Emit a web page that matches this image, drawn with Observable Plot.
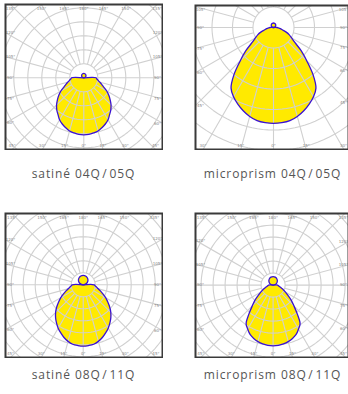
<!DOCTYPE html>
<html><head><meta charset="utf-8">
<script src="https://cdn.jsdelivr.net/npm/d3@7"></script>
<script src="https://cdn.jsdelivr.net/npm/@observablehq/plot@0.6"></script>
<style>
html,body{margin:0;padding:0;background:#fff;width:348px;height:394px;overflow:hidden;}
#root{position:relative;width:348px;height:394px;overflow:hidden;}
#root svg{position:absolute;}
.cap{position:absolute;font-family:"Open Sans",sans-serif;font-size:12px;letter-spacing:0.9px;color:#555;text-align:center;width:200px;line-height:18px;white-space:nowrap;}
.cap .sl{margin:0 2px 0 1.5px;}
</style></head><body><div id="root"></div>
<script>
// ---- data (intensity, arbitrary units; 100 = one grid ring) ----
const lowerAngles = [0,5,10,15,20,25,30,35,40,45,50,55,60,65,70,75,80,85,90];
const upperAngles = [90,105,120,135,150,165,180];
const satine0405Lower = [407,406,400,393,379,364,346,321,300,275,246,218,189,157,136,118,104,93,88];
const satine0405Upper = [0,8,15.5,22,27,30,31];
const microprism0405Lower = [468,466,461,449,432,412,390,361,300,229,176,127,102,85,66,46,34,24,17];
const microprism0405Upper = [0,5.7,11,15.5,19,21,22];
const satine0811Lower = [511,508,503,488,467,442,417,388,358,325,288,250,217,183,154,129,113,100,92];
const satine0811Upper = [0,20,40,56,68,76,79];
const microprism0811Lower = [506,504,498,488,473,454,423,392,313,246,198,152,121,96,75,61,50,42,38];
const microprism0811Upper = [0,18,35.5,50,61.5,68.5,71];
const rayAngles = [0,15,30,45,60,75,90,105,120,135,150,165,180];
const ringValues = [100,200,300,400,500,600,700,800,900,1000];
const captions = ["satiné 04Q/05Q","microprism 04Q/05Q","satiné 08Q/11Q","microprism 08Q/11Q"];

// ---- layout ----
const panels = [
  {cap:captions[0], lower:satine0405Lower, upper:satine0405Upper, left:5, top:4, w:157, h:145, cx:78.3, cy:73.3, ring:14, capX:83.5, capY:174},
  {cap:captions[1], lower:microprism0405Lower, upper:microprism0405Upper, left:194.7, top:5, w:153, h:144, cx:78, cy:22, ring:20.5, capX:272.5, capY:174},
  {cap:captions[2], lower:satine0811Lower, upper:satine0811Upper, left:5, top:213, w:157, h:144, cx:77.7, cy:71.3, ring:12, capX:83.5, capY:375},
  {cap:captions[3], lower:microprism0811Lower, upper:microprism0811Upper, left:194.7, top:212.7, w:153, h:144, cx:77.6, cy:71.6, ring:12, capX:272.5, capY:375}
];

const rad = Math.PI/180;
const pol = (a, r, part) => ({part, x: r*Math.sin(a*rad), y: -r*Math.cos(a*rad)});

function lobe(lower, upper){
  const pts = [{part:"lo", x:0, y:0}];
  for (let i = lowerAngles.length-1; i >= 0; i--) pts.push(pol(-lowerAngles[i], lower[i], "lo"));
  for (let i = 1; i < lowerAngles.length; i++) pts.push(pol(lowerAngles[i], lower[i], "lo"));
  pts.push({part:"lo", x:0, y:0});
  for (let i = 0; i < upperAngles.length; i++) pts.push(pol(upperAngles[i], upper[i], "up"));
  for (let i = upperAngles.length-2; i >= 0; i--) pts.push(pol(-upperAngles[i], upper[i], "up"));
  return pts;
}

const signedRays = [];
for (const a of rayAngles){ signedRays.push(a); if (a !== 0 && a !== 180) signedRays.push(-a); }

const root = document.getElementById("root");

for (const p of panels){
  const k = p.ring/100; // px per unit
  const xDom = [-p.cx/k, (p.w-p.cx)/k];
  const yDom = [-(p.h-p.cy)/k, p.cy/k];
  const rings = [];
  for (const rv of ringValues) for (let a = 0; a <= 360; a += 3) rings.push(pol(a, rv, rv));
  const rays = signedRays.map(a => ({a, x1: pol(a, ringValues[0]).x, y1: pol(a, ringValues[0]).y, x2: pol(a, 3000).x, y2: pol(a, 3000).y}));
  const labels = [];
  for (const a of signedRays){
    const dx = Math.sin(a*rad), dy = Math.cos(a*rad);
    const tx = dx > 1e-9 ? (p.w-p.cx)/dx : dx < -1e-9 ? -p.cx/dx : Infinity;
    const ty = dy > 1e-9 ? (p.h-p.cy)/dy : dy < -1e-9 ? -p.cy/dy : Infinity;
    const t = Math.min(tx, ty);
    if (t < 50) continue;
    let px = p.cx + t*dx, py = p.cy + t*dy;
    px = Math.max(5, Math.min(p.w-5, px));
    py = Math.max(4.3, Math.min(p.h-3.5, py));
    labels.push({x:(px-p.cx)/k, y:-(py-p.cy)/k, text: Math.abs(a) + "°"});
  }
  const shape = lobe(p.lower, p.upper);
  const svg = Plot.plot({
    width: p.w+2, height: p.h+2, margin: 1,
    x: {domain: xDom, axis: null},
    y: {domain: yDom, axis: null},
    style: {background: "white"},
    marks: [
      Plot.line(shape, {x:"x", y:"y", z:"part", fill:"#ffea00", stroke:"none", curve:"catmull-rom"}),
      Plot.line(rings, {x:"x", y:"y", z:"part", stroke:"#d0d0d0", strokeWidth:1.1, clip:true}),
      Plot.link(rays, {x1:"x1", y1:"y1", x2:"x2", y2:"y2", stroke:"#d0d0d0", strokeWidth:1.1, clip:true}),
      Plot.line(shape, {x:"x", y:"y", z:"part", fill:"none", stroke:"#3a12d2", strokeWidth:1.3, curve:"catmull-rom"}),
      Plot.text(labels, {x:"x", y:"y", text:"text", fontSize:4, fill:"#888", fontFamily:"DejaVu Sans"}),
      Plot.frame({stroke:"#3a3a3a", strokeWidth:2})
    ]
  });
  svg.style.left = (p.left-1) + "px";
  svg.style.top = (p.top-1) + "px";
  root.appendChild(svg);
  const cap = document.createElement("div");
  cap.className = "cap";
  const parts = p.cap.split("/");
  cap.appendChild(document.createTextNode(parts[0]));
  const sl = document.createElement("span"); sl.className = "sl"; sl.textContent = "/";
  cap.appendChild(sl);
  cap.appendChild(document.createTextNode(parts[1]));
  cap.style.left = (p.capX-100) + "px";
  cap.style.top = (p.capY-9) + "px";
  root.appendChild(cap);
}
</script></body></html>
